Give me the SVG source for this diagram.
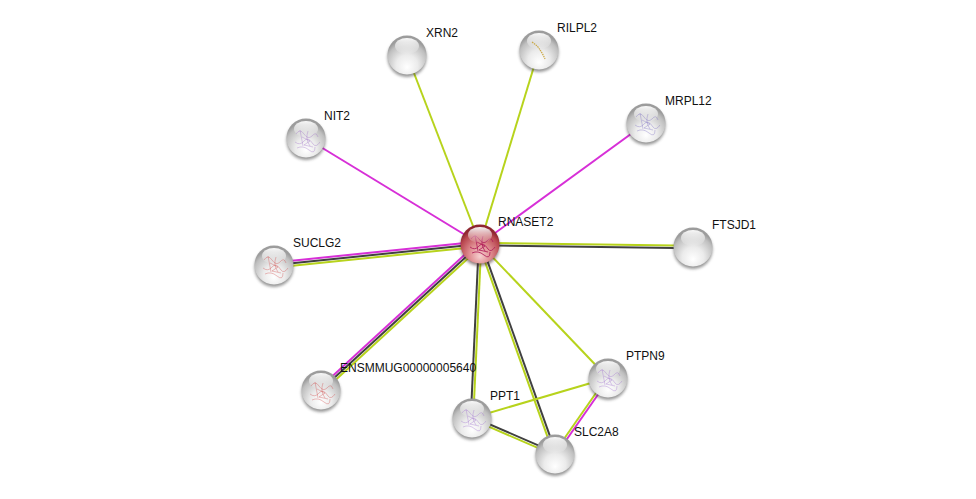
<svg xmlns="http://www.w3.org/2000/svg" xmlns:xlink="http://www.w3.org/1999/xlink" width="976" height="499" viewBox="0 0 976 499">
<style>
.lbl{font-family:"Liberation Sans",Arial,sans-serif;font-size:12px;fill:#111}
.y{stroke:#b7d31c;stroke-width:2;fill:none}
.m{stroke:#d72fd7;stroke-width:2;fill:none}
.k{stroke:#404040;stroke-width:2;fill:none}
.scr{fill:none;stroke-width:0.6;opacity:0.6}
</style>
<defs>
<filter id="blur" x="-50%" y="-50%" width="200%" height="200%"><feGaussianBlur stdDeviation="1.6"/></filter>
<radialGradient id="gBall" cx="50%" cy="72%" r="62%" fx="50%" fy="82%">
<stop offset="0" stop-color="#ffffff"/>
<stop offset="0.45" stop-color="#ebebeb"/>
<stop offset="0.85" stop-color="#bfbfbf"/>
<stop offset="1" stop-color="#9c9c9c"/>
</radialGradient>
<radialGradient id="gRed" cx="50%" cy="72%" r="62%" fx="50%" fy="82%">
<stop offset="0" stop-color="#f6d0d0"/>
<stop offset="0.45" stop-color="#df8c90"/>
<stop offset="0.85" stop-color="#b8464e"/>
<stop offset="1" stop-color="#8e2630"/>
</radialGradient>
<linearGradient id="gHi" x1="0" y1="0" x2="0" y2="1">
<stop offset="0" stop-color="#ffffff" stop-opacity="0.95"/>
<stop offset="1" stop-color="#ffffff" stop-opacity="0.05"/>
</linearGradient>
<g id="ball">
<circle cx="0" cy="2.5" r="19.5" fill="#404040" opacity="0.55" filter="url(#blur)"/>
<circle cx="0" cy="0" r="19.5" fill="url(#gBall)"/>
<ellipse cx="0" cy="-9" rx="12" ry="8" fill="url(#gHi)"/>
</g>
<g id="redball">
<circle cx="0" cy="2.5" r="19.5" fill="#402020" opacity="0.55" filter="url(#blur)"/>
<circle cx="0" cy="0" r="19.5" fill="url(#gRed)"/>
</g>
<ellipse id="hi" cx="0" cy="-9" rx="12" ry="8" fill="url(#gHi)"/>
<path id="scribble" d="M-10,-6 q4,-6 8,0 t8,2 q4,-5 6,1 M-11,2 q5,4 9,-1 t9,3 q3,4 7,-2 M-6,-10 l3,16 M2,-9 q-3,8 2,15 M-9,8 q6,-3 12,2 t6,-3 M-4,-3 l8,4 l-6,4 l9,2"/>
</defs>
<rect width="976" height="499" fill="#ffffff"/>
<g id="connectors">
<line class="y" x1="480" y1="244" x2="407" y2="55"/>
<line class="y" x1="480" y1="244" x2="539" y2="50"/>
<line class="m" x1="480" y1="244" x2="646" y2="123"/>
<line class="m" x1="480" y1="244" x2="306" y2="138"/>
<line class="y" x1="480" y1="242.75" x2="693" y2="245.75"/>
<line class="k" x1="480" y1="245.25" x2="693" y2="248.25"/>
<line class="m" x1="479.7" y1="241.5" x2="274.7" y2="262.5"/>
<line class="k" x1="480" y1="244" x2="275" y2="265"/>
<line class="y" x1="480.3" y1="246.5" x2="275.3" y2="267.5"/>
<line class="m" x1="478.3" y1="242.2" x2="319.3" y2="388.2"/>
<line class="k" x1="480" y1="244" x2="321" y2="390"/>
<line class="y" x1="481.7" y1="245.8" x2="322.7" y2="391.8"/>
<line class="k" x1="478.75" y1="244" x2="470.75" y2="418"/>
<line class="y" x1="481.25" y1="244" x2="473.25" y2="418"/>
<line class="y" x1="478.8" y1="244.4" x2="553.8" y2="454.4"/>
<line class="k" x1="481.2" y1="243.6" x2="556.2" y2="453.6"/>
<line class="y" x1="480" y1="244" x2="608" y2="378"/>
<line class="y" x1="472" y1="418" x2="608" y2="378"/>
<line class="k" x1="472.5" y1="416.85" x2="555.5" y2="452.85"/>
<line class="y" x1="471.5" y1="419.15" x2="554.5" y2="455.15"/>
<line class="y" x1="607" y1="377.3" x2="554" y2="453.3"/>
<line class="m" x1="609" y1="378.7" x2="556" y2="454.7"/>
</g>
<g id="node-XRN2"><use xlink:href="#ball" href="#ball" x="407" y="55"/><text class="lbl" x="426" y="37">XRN2</text></g>
<g id="node-RILPL2"><use xlink:href="#ball" href="#ball" x="539" y="50"/><path d="M532,42 q6,4 8,8 q3,4 5,9" stroke="#c9a640" stroke-width="1.2" fill="none" stroke-dasharray="1.5 0.8"/><text class="lbl" x="557" y="32">RILPL2</text></g>
<g id="node-MRPL12"><use xlink:href="#ball" href="#ball" x="646" y="123"/><use xlink:href="#scribble" href="#scribble" x="646" y="123" class="scr" stroke="#7a6ec0"/><text class="lbl" x="665" y="105">MRPL12</text></g>
<g id="node-NIT2"><use xlink:href="#ball" href="#ball" x="306" y="138"/><use xlink:href="#scribble" href="#scribble" x="306" y="140" class="scr" stroke="#a070c8"/><text class="lbl" x="324" y="120">NIT2</text></g>
<g id="node-FTSJD1"><use xlink:href="#ball" href="#ball" x="693" y="247"/><text class="lbl" x="712" y="229">FTSJD1</text></g>
<g id="node-SUCLG2"><use xlink:href="#ball" href="#ball" x="274" y="265"/><use xlink:href="#scribble" href="#scribble" x="274" y="266" class="scr" stroke="#d04848"/><text class="lbl" x="293" y="247">SUCLG2</text></g>
<g id="node-ENSMMUG00000005640"><use xlink:href="#ball" href="#ball" x="321" y="390"/><use xlink:href="#scribble" href="#scribble" x="321" y="392" class="scr" stroke="#d04848"/><text class="lbl" x="340" y="372">ENSMMUG00000005640</text></g>
<g id="node-PPT1"><use xlink:href="#ball" href="#ball" x="472" y="418"/><use xlink:href="#scribble" href="#scribble" x="472" y="419" class="scr" stroke="#a070d0"/><text class="lbl" x="490" y="400">PPT1</text></g>
<g id="node-PTPN9"><use xlink:href="#ball" href="#ball" x="608" y="378"/><use xlink:href="#scribble" href="#scribble" x="608" y="379" class="scr" stroke="#a070d0"/><text class="lbl" x="626" y="360">PTPN9</text></g>
<g id="node-SLC2A8"><use xlink:href="#ball" href="#ball" x="555" y="454"/><text class="lbl" x="574" y="436">SLC2A8</text></g>
<g id="node-RNASET2"><use xlink:href="#redball" href="#redball" x="480" y="244"/><use xlink:href="#scribble" href="#scribble" x="481" y="245" class="scr" stroke="#b0205a" style="stroke-width:1;opacity:0.85"/><use xlink:href="#hi" href="#hi" x="480" y="244"/><text class="lbl" x="498" y="226">RNASET2</text></g>
</svg>
